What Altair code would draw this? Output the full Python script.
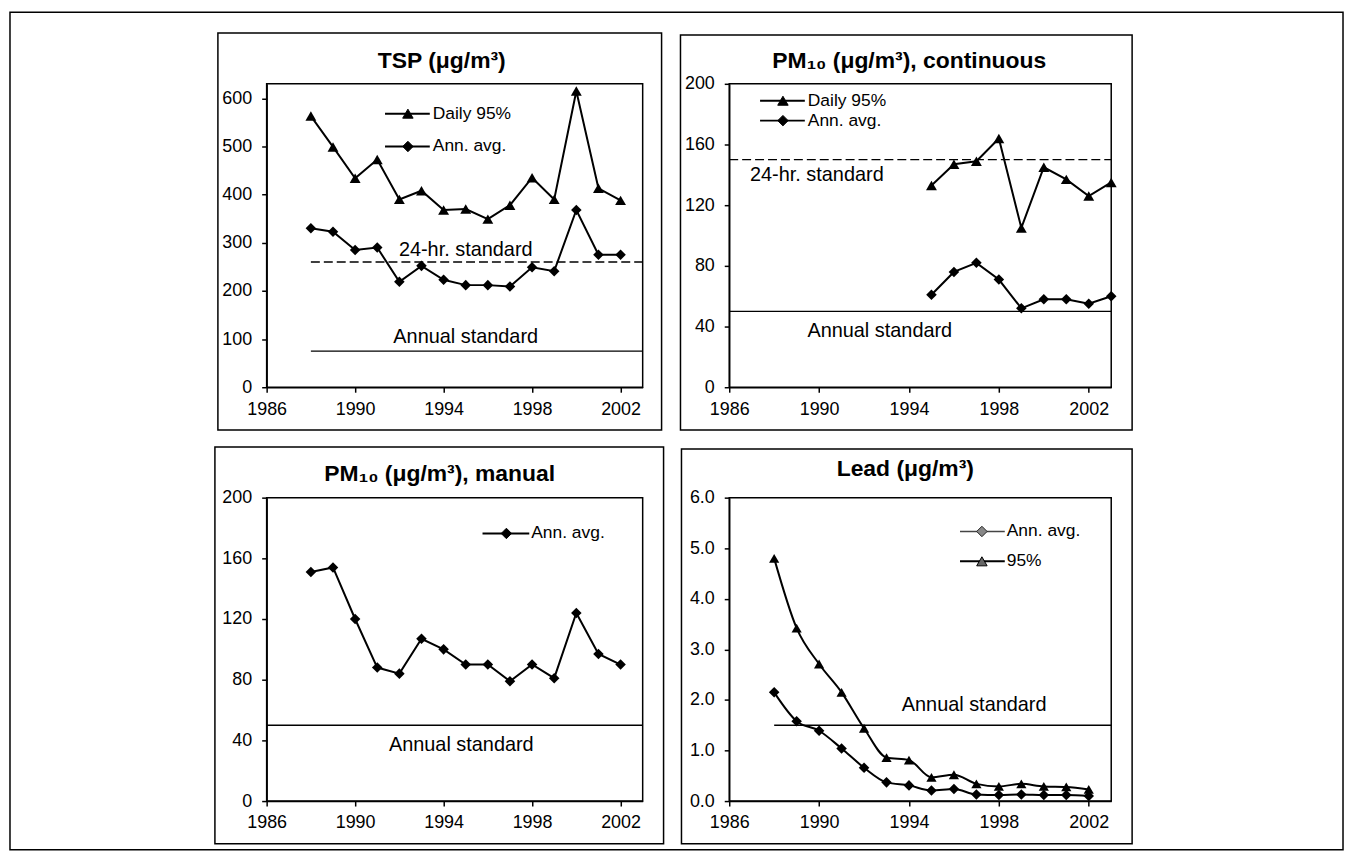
import altair as alt
import pandas as pd

FONT = "Liberation Sans, Arial, DejaVu Sans, sans-serif"

# ---------------- data ----------------
x_ticks = [1986, 1990, 1994, 1998, 2002]

tsp_years = list(range(1988, 2003))
tsp_daily95 = [563, 499, 434, 473, 390, 408, 368, 370, 349, 378, 435, 390, 615, 413, 388]
tsp_annavg = [330, 323, 285, 290, 219, 252, 223, 212, 212, 209, 249, 241, 368, 275, 275]

pmc_years = list(range(1995, 2004))
pmc_daily95 = [133, 147, 149, 164, 105, 145, 137, 126, 135]
pmc_annavg = [61, 76, 82, 71, 52, 58, 58, 55, 60]

pmm_years = list(range(1988, 2003))
pmm_annavg = [151, 154, 120, 88, 84, 107, 100, 90, 90, 79, 90, 81, 124, 97, 90]

lead_years = list(range(1988, 2003))
lead_annavg = [2.15, 1.58, 1.39, 1.04, 0.66, 0.37, 0.31, 0.21, 0.24, 0.13, 0.12, 0.13, 0.12, 0.12, 0.10]
lead_p95 = [4.80, 3.42, 2.71, 2.15, 1.44, 0.86, 0.81, 0.47, 0.52, 0.34, 0.29, 0.34, 0.29, 0.28, 0.23]

# standards: label, level, x start, x end, dashed, label x, label y
tsp_standards = [("24-hr. standard", 260, 1988, 2003, True, 1995.0, 285),
                 ("Annual standard", 75, 1988, 2003, False, 1995.0, 105)]
pmc_standards = [("24-hr. standard", 150, 1986, 2003, True, 1989.9, 140),
                 ("Annual standard", 50, 1986, 2003, False, 1992.7, 37)]
pmm_standards = [("Annual standard", 50, 1986, 2003, False, 1994.8, 37)]
lead_standards = [("Annual standard", 1.5, 1988, 2003, False, 1996.9, 1.89)]

W_LEFT, W_RIGHT, H = 378, 384, 305


def one_row():
    return pd.DataFrame({"k": [0]})


def panel(title, title_pos, series, y_domain, y_ticks, y_fmt, standards,
          legend, frame, width, interp="linear"):
    rows = []
    for name, yrs, vals, shape in series:
        for yv, v in zip(yrs, vals):
            rows.append({"year": yv, "value": v, "series": name})
    df = pd.DataFrame(rows)
    names = [s[0] for s in series]
    shapes = [s[3] for s in series]
    sizes = [120 if s == "triangle-up" else 105 for s in shapes]

    X = alt.X("year:Q", title=None,
              scale=alt.Scale(domain=[1986, 2003], nice=False, zero=False),
              axis=alt.Axis(values=x_ticks, format="d", labelFlush=False))
    Y = alt.Y("value:Q", title=None,
              scale=alt.Scale(domain=y_domain, nice=False, zero=True),
              axis=alt.Axis(values=y_ticks, format=y_fmt))

    layers = []
    lines = alt.Chart(df).mark_line(color="black", strokeWidth=2, interpolate=interp).encode(
        x=X, y=Y, detail="series:N")
    pts = alt.Chart(df).mark_point(filled=True, color="black", opacity=1).encode(
        x=X, y=Y,
        shape=alt.Shape("series:N", scale=alt.Scale(domain=names, range=shapes), legend=None),
        size=alt.Size("series:N", scale=alt.Scale(domain=names, range=sizes), legend=None))

    sdf = pd.DataFrame([{"label": s[0], "y": s[1], "x1": s[2], "x2": s[3],
                         "dash": s[4], "tx": s[5], "ty": s[6]} for s in standards])
    dashed = sdf[sdf["dash"]]
    solid = sdf[~sdf["dash"]]
    if len(dashed):
        layers.append(alt.Chart(dashed).mark_rule(color="black", strokeWidth=1.4,
                                                  strokeDash=[9, 4]).encode(
            x=alt.X("x1:Q", title=None), x2="x2:Q", y=alt.Y("y:Q", title=None)))
    if len(solid):
        layers.append(alt.Chart(solid).mark_rule(color="black", strokeWidth=1.4).encode(
            x=alt.X("x1:Q", title=None), x2="x2:Q", y=alt.Y("y:Q", title=None)))
    layers.append(alt.Chart(sdf).mark_text(font=FONT, fontSize=20, color="black",
                                          align="center", baseline="middle").encode(
        x=alt.X("tx:Q", title=None), y=alt.Y("ty:Q", title=None), text="label:N"))

    layers = [lines, pts] + layers

    # legend (drawn inside plot area)
    lx1, lx2, sx, tx, ly0, ldy, items = legend
    for i, (lab, shp, lcol, lw, sfill, sstroke) in enumerate(items):
        ly = ly0 + i * ldy
        layers.append(alt.Chart(one_row()).mark_rule(color=lcol, strokeWidth=lw).encode(
            x=alt.value(lx1), x2=alt.value(lx2), y=alt.value(ly)))
        layers.append(alt.Chart(one_row()).mark_point(shape=shp, filled=True, fill=sfill,
                                                      stroke=sstroke, strokeWidth=1,
                                                      size=110, opacity=1).encode(
            x=alt.value(sx), y=alt.value(ly)))
        layers.append(alt.Chart(one_row()).mark_text(font=FONT, fontSize=17.5, color="black",
                                                     align="left", baseline="middle").encode(
            x=alt.value(tx), y=alt.value(ly), text=alt.value(lab)))

    # title
    layers.append(alt.Chart(one_row()).mark_text(font=FONT, fontSize=23, fontWeight="bold",
                                                 color="black", align="center",
                                                 baseline="middle").encode(
        x=alt.value(title_pos[0]), y=alt.value(title_pos[1]), text=alt.value(title)))

    # panel frame
    for fr in frame:
        layers.append(alt.Chart(one_row()).mark_rect(fillOpacity=0, stroke="black",
                                                     strokeWidth=fr[4]).encode(
            x=alt.value(fr[0]), x2=alt.value(fr[1]), y=alt.value(fr[2]), y2=alt.value(fr[3])))

    return alt.layer(*layers).properties(width=width, height=H)


BLK = "black"
tri_item = lambda lab: (lab, "triangle-up", BLK, 2, BLK, BLK)
dia_item = lambda lab: (lab, "diamond", BLK, 2, BLK, BLK)

tsp = panel("TSP (μg/m³)", (176, -23),
            [("Daily 95%", tsp_years, tsp_daily95, "triangle-up"),
             ("Ann. avg.", tsp_years, tsp_annavg, "diamond")],
            [0, 630], [0, 100, 200, 300, 400, 500, 600], "d", tsp_standards,
            (119, 164, 142, 167, 30, 33, [tri_item("Daily 95%"), dia_item("Ann. avg.")]),
            [(-49, 397, -51, 348, 1.5), (-258, 1082, -72, 770, 1.5)], W_LEFT)

pmc = panel("PM₁₀ (μg/m³), continuous", (181, -23),
            [("Daily 95%", pmc_years, pmc_daily95, "triangle-up"),
             ("Ann. avg.", pmc_years, pmc_annavg, "diamond")],
            [0, 200], [0, 40, 80, 120, 160, 200], "d", pmc_standards,
            (31, 76, 54, 79, 17, 20, [tri_item("Daily 95%"), dia_item("Ann. avg.")]),
            [(-49, 405, -49, 348, 1.5)], W_RIGHT)

pmm = panel("PM₁₀ (μg/m³),  manual", (174, -24),
            [("Ann. avg.", pmm_years, pmm_annavg, "diamond")],
            [0, 200], [0, 40, 80, 120, 160, 200], "d", pmm_standards,
            (217, 264, 241, 266, 36, 20, [dia_item("Ann. avg.")]),
            [(-52, 399, -51, 348, 1.5)], W_LEFT)

lead = panel("Lead (μg/m³)", (177, -29),
             [("Ann. avg.", lead_years, lead_annavg, "diamond"),
              ("95%", lead_years, lead_p95, "triangle-up")],
             [0, 6], [0, 1, 2, 3, 4, 5, 6], ".1f", lead_standards,
             (232, 277, 254, 279, 34, 30,
              [("Ann. avg.", "diamond", "#444444", 1.4, "#888888", "#222222"),
               ("95%", "triangle-up", BLK, 2, "#666666", BLK)]),
             [(-48, 405, -49, 348, 1.5)], W_RIGHT, interp="monotone")

chart = alt.concat(tsp, pmc, pmm, lead, columns=2,
                   spacing={"row": 111, "column": 87},
                   bounds="flush", align="each").properties(
    padding=0, background="white"
).configure_view(
    stroke="black", strokeWidth=1.5
).configure_axis(
    labelFont=FONT, labelFontSize=18, labelColor="black",
    domainColor="black", domainWidth=1.5, tickColor="black", tickWidth=1.5,
    tickSize=5, grid=False
).configure_axisX(labelPadding=8).configure_axisY(labelPadding=10)

chart.save("out.html", embed_options={"renderer": "svg", "actions": False})
